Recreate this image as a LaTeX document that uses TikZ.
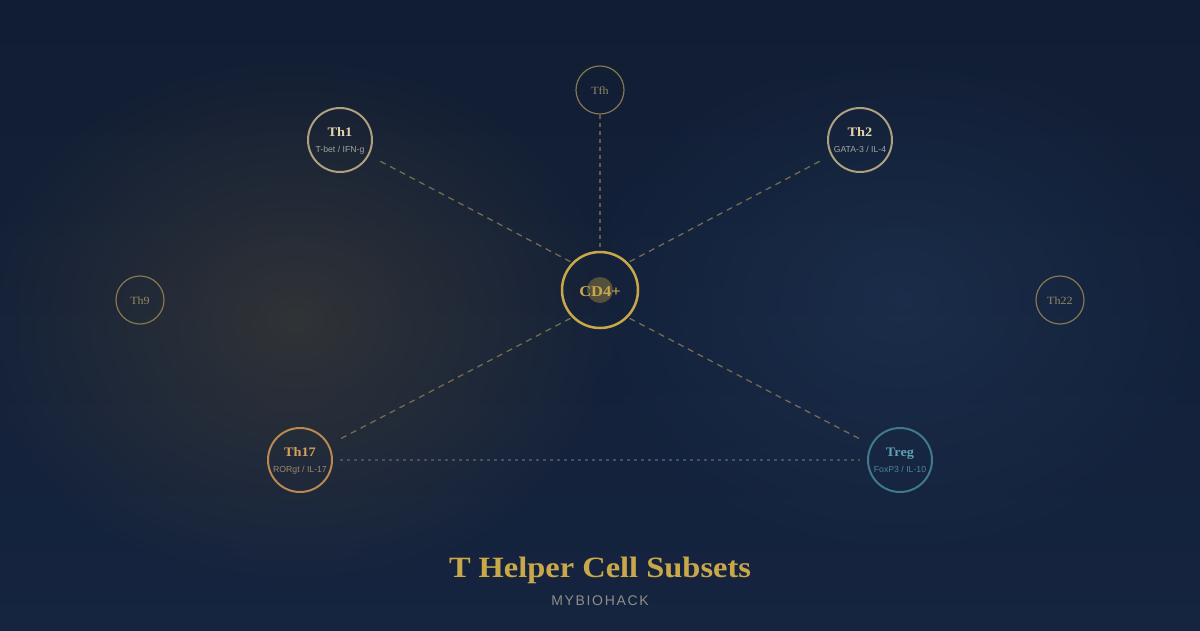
\documentclass[tikz,border=0pt]{standalone}
\usepackage{fontspec}
\setmainfont{Liberation Serif}[FakeStretch=1.1]
\setsansfont{Liberation Sans}
\usetikzlibrary{fadings}
\definecolor{bgtop}{HTML}{111D33}
\definecolor{bgbot}{HTML}{15243F}
\definecolor{gold}{HTML}{C9A84A}
\definecolor{beige}{HTML}{ADA07E}
\definecolor{beigetxt}{HTML}{E3D3A6}
\definecolor{subgray}{HTML}{A3A39F}
\definecolor{ochre}{HTML}{B9884F}
\definecolor{ochretxt}{HTML}{D6A05C}
\definecolor{ochresub}{HTML}{A08668}
\definecolor{teal}{HTML}{3F7A8A}
\definecolor{tealtxt}{HTML}{5BA2B3}
\definecolor{tealsub}{HTML}{4B8696}
\definecolor{faint}{HTML}{85774F}
\definecolor{fainttxt}{HTML}{968762}
\definecolor{dash}{HTML}{756B4F}
\definecolor{dotl}{HTML}{465065}
\definecolor{warm}{HTML}{4E4634}
\definecolor{cool}{HTML}{22395A}
\definecolor{brand}{HTML}{8E8E8A}
\tikzfading[name=glow, inner color=transparent!50, outer color=transparent!100]
\tikzset{
  major/.style={circle, draw, line width=2pt, minimum size=64pt, inner sep=0pt, outer sep=0pt, align=center},
  minor/.style={circle, draw=faint, line width=1.2pt, minimum size=48pt, inner sep=0pt, outer sep=0pt},
  minortxt/.style={anchor=base, inner sep=0pt, text=fainttxt, font=\fontsize{11}{12}\selectfont},
  link/.style={draw=dash, line width=1.3pt, dash pattern=on 6pt off 5pt},
  vlink/.style={draw=dash, line width=1.2pt, dash pattern=on 4pt off 4pt, opacity=0.8},
  dotlink/.style={draw=dotl, line width=1.4pt, dash pattern=on 3pt off 4pt},
  ttl/.style={anchor=base, inner sep=0pt, font=\bfseries\fontsize{13}{14}\selectfont},
  sub/.style={anchor=base, inner sep=0pt, font=\sffamily\fontsize{8.7}{10}\selectfont}
}
\begin{document}
\begin{tikzpicture}[x=1pt,y=-1pt]
\useasboundingbox (0,0) rectangle (1200,630);
\shade[top color=bgtop, bottom color=bgbot] (0,0) rectangle (1200,630);
\fill[warm, path fading=glow] (295,320) ellipse [x radius=330, y radius=270];
\fill[cool, path fading=glow] (900,300) ellipse [x radius=330, y radius=260];
% nodes
\node[major, draw=gold, line width=2.5pt, minimum size=76pt] (cd4) at (600,290) {};
\fill[gold, opacity=0.35] (600,290) circle (13);
\node[anchor=base, inner sep=0pt, text=gold, font=\bfseries\fontsize{15}{16}\selectfont] (cd4t) at (600,296) {CD4+};
\node[major, draw=beige] (th1) at (340,140) {};
\node[ttl, text=beigetxt] (th1a) at (340,136) {Th1};
\node[sub, text=subgray] (th1b) at (340,152) {T-bet / IFN-g};
\node[major, draw=beige] (th2) at (860,140) {};
\node[ttl, text=beigetxt] (th2a) at (860,136) {Th2};
\node[sub, text=subgray] (th2b) at (860,152) {GATA-3 / IL-4};
\node[major, draw=ochre] (th17) at (300,460) {};
\node[ttl, text=ochretxt] (th17a) at (300,456) {Th17};
\node[sub, text=ochresub] (th17b) at (300,472) {RORgt / IL-17};
\node[major, draw=teal] (treg) at (900,460) {};
\node[ttl, text=tealtxt] (trega) at (900,456) {Treg};
\node[sub, text=tealsub] (tregb) at (900,472) {FoxP3 / IL-10};
\node[minor] (tfh) at (600,90) {};
\node[minortxt] (tfht) at (600,94) {Tfh};
\node[minor] (th9) at (140,300) {};
\node[minortxt] (th9t) at (140,304) {Th9};
\node[minor] (th22) at (1060,300) {};
\node[minortxt] (th22t) at (1060,304) {Th22};
% connectors
\draw[link, shorten <=3pt, shorten >=12pt] (cd4.135) -- (th1);
\draw[link, shorten <=3pt, shorten >=12pt] (cd4.45) -- (th2);
\draw[link, shorten <=3pt, shorten >=10pt] (cd4.225) -- (th17);
\draw[link, shorten <=3pt, shorten >=10pt] (cd4.-45) -- (treg);
\draw[vlink, shorten <=1pt, shorten >=1pt] (tfh) -- (cd4);
\draw[dotlink, shorten <=8pt, shorten >=8pt] (th17) -- (treg);
% titles
\node[anchor=base, inner sep=0pt, text=gold, font=\bfseries\fontsize{29.5}{32}\selectfont] (title) at (600,577) {T Helper Cell Subsets};
\node[anchor=base, inner sep=0pt, text=brand, font=\sffamily\fontsize{14}{16}\selectfont] (brand) at (600,605) {\addfontfeature{LetterSpace=12}MYBIOHACK};
\end{tikzpicture}
\end{document}
